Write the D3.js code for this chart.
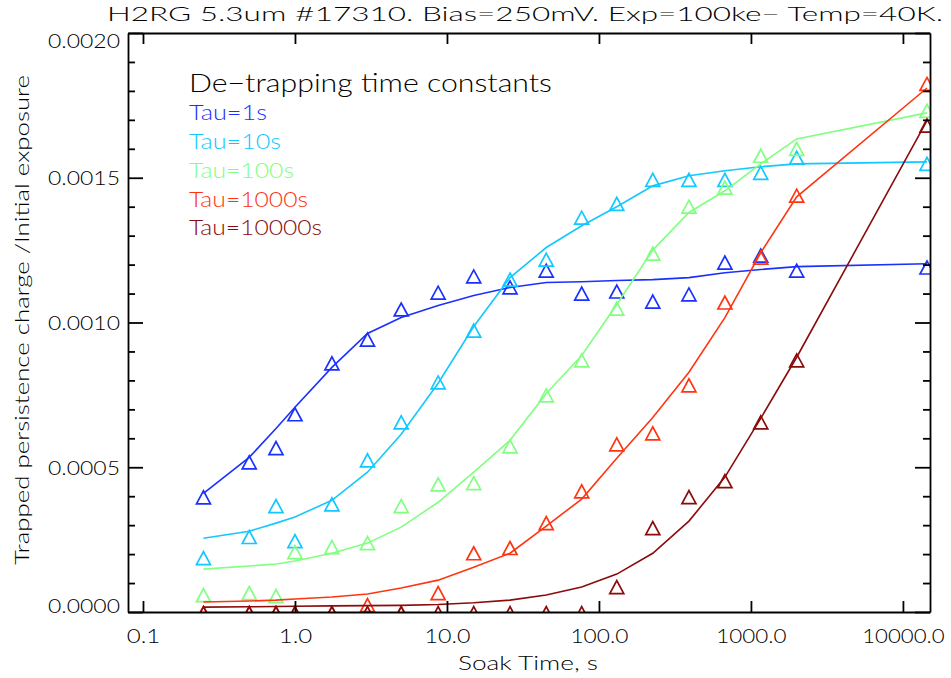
<!DOCTYPE html>
<html>
<head>
<meta charset="utf-8">
<script src="https://cdn.jsdelivr.net/npm/d3@7"></script>
<style>
  html, body { margin: 0; padding: 0; background: #fff; }
  svg { display: block; }
  text { font-family: "Lato", "DejaVu Sans", sans-serif; font-weight: 300; font-variant-numeric: lining-nums; font-feature-settings: "lnum" 1; }
</style>
</head>
<body>
<svg id="chart" width="951" height="678"></svg>
<script>
// ---------------- data ----------------
const soakTimes = [0.25, 0.5, 0.75, 1.0, 1.75, 3, 5, 8.75, 15, 26, 45, 77, 131, 226, 391, 674, 1160, 2000, 14400];

const seriesNames = ["Tau=1s", "Tau=10s", "Tau=100s", "Tau=1000s", "Tau=10000s"];
const seriesColors = ["#1a30ff", "#12c8ff", "#80ff80", "#ff3510", "#8b0a0a"];

const measTau1 = [0.000396, 0.000517, 0.000566, 0.000683, 0.000859, 0.000941, 0.001045, 0.001103, 0.001159, 0.001121, 0.001179, 0.001100, 0.001107, 0.001072, 0.001097, 0.001207, 0.001231, 0.001179, 0.001190];
const fitTau1  = [0.000410, 0.000534, 0.000634, 0.000707, 0.000845, 0.000962, 0.001017, 0.001059, 0.001093, 0.001121, 0.001138, 0.001141, 0.001145, 0.001148, 0.001155, 0.001172, 0.001183, 0.001193, 0.001203];

const measTau10 = [0.000186, 0.000259, 0.000366, 0.000245, 0.000372, 0.000524, 0.000655, 0.000793, 0.000972, 0.001148, 0.001217, 0.001362, 0.001410, 0.001493, 0.001493, 0.001493, 0.001517, 0.001569, 0.001548];
const fitTau10  = [0.000255, 0.000279, 0.000307, 0.000328, 0.000386, 0.000483, 0.000614, 0.000790, 0.000986, 0.001155, 0.001259, 0.001334, 0.001400, 0.001472, 0.001507, 0.001524, 0.001538, 0.001548, 0.001555];

const measTau100 = [0.0000586, 0.0000655, 0.000055, 0.000207, 0.000224, 0.000238, 0.000366, 0.000441, 0.000445, 0.000572, 0.000748, 0.000869, 0.001048, 0.001238, 0.001400, 0.001466, 0.001576, 0.001600, 0.001731];
const fitTau100  = [0.000148, 0.000159, 0.000166, 0.000176, 0.000203, 0.000238, 0.000293, 0.000379, 0.000483, 0.000593, 0.000755, 0.000886, 0.001062, 0.001250, 0.001380, 0.001455, 0.001548, 0.001634, 0.001724];

const measTau1000 = [-0.000004, -0.000004, -0.000004, -0.000004, -0.000004, 0.000024, -0.000004, 0.0000655, 0.000203, 0.000221, 0.000307, 0.000417, 0.000579, 0.000617, 0.000783, 0.001069, 0.001224, 0.001438, 0.001824];
const fitTau1000  = [0.0000345, 0.000038, 0.000041, 0.0000448, 0.000052, 0.000062, 0.000083, 0.000110, 0.000155, 0.000203, 0.000297, 0.000390, 0.000531, 0.000672, 0.000828, 0.001017, 0.001241, 0.001434, 0.001810];

const measTau10000 = [-0.000004, -0.000004, -0.000004, -0.000004, -0.000004, -0.000004, -0.000004, -0.000004, -0.000004, -0.000004, -0.000004, -0.000004, 0.0000862, 0.000290, 0.000397, 0.000452, 0.000655, 0.000869, 0.001680];
const fitTau10000  = [0.000017, 0.000018, 0.000019, 0.000020, 0.000021, 0.000022, 0.000023, 0.000026, 0.000032, 0.000041, 0.0000586, 0.0000862, 0.000131, 0.000203, 0.000314, 0.000466, 0.000669, 0.000880, 0.001697];

const xTickValues = [0.1, 1, 10, 100, 1000, 10000];
const yTickValues = [0, 0.0005, 0.0010, 0.0015, 0.0020];
const yMinorValues = d3.range(0, 21).map(i => i * 0.0001).filter(v => !yTickValues.some(t => Math.abs(t - v) < 1e-9));

const titleText = "H2RG 5.3um #17310. Bias=250mV. Exp=100ke\u2212 Temp=40K.";
const xTitle = "Soak Time, s";
const yTitle = "Trapped persistence charge /Initial exposure";
const legendTitle = "De\u2212trapping time constants";

const measured = [measTau1, measTau10, measTau100, measTau1000, measTau10000];
const fitted = [fitTau1, fitTau10, fitTau100, fitTau1000, fitTau10000];

// ---------------- layout ----------------
const L = 128, R = 930, T = 33, B = 612;
const svg = d3.select("#chart");

const x = d3.scaleLog().domain([0.0797, 15070]).range([L, R]);
const y = d3.scaleLinear().domain([0, 0.002]).range([B, T]);

svg.append("defs").append("clipPath").attr("id", "plotclip")
  .append("rect").attr("x", L).attr("y", T).attr("width", R - L).attr("height", B - T);

const plot = svg.append("g").attr("clip-path", "url(#plotclip)");

const line = d3.line().x((d, i) => x(soakTimes[i])).y(d => y(d));
const tri = "M-7,6.5L7,6.5L0,-6.5Z";

measured.forEach((vals, s) => {
  plot.append("path")
    .attr("d", line(fitted[s]))
    .attr("fill", "none")
    .attr("stroke", seriesColors[s])
    .attr("stroke-width", 1.6);
  plot.selectAll(null).data(vals).enter().append("path")
    .attr("d", tri)
    .attr("transform", (d, i) => `translate(${x(soakTimes[i])},${y(d)})`)
    .attr("fill", "none")
    .attr("stroke", seriesColors[s])
    .attr("stroke-width", 1.7);
});

// ---------------- axes ----------------
function styleAxis(g) {
  g.selectAll("path.domain").attr("stroke", "#000").attr("stroke-width", 1.8);
  g.selectAll(".tick line").attr("stroke", "#000").attr("stroke-width", 1.8);
  g.selectAll("text").attr("fill", "#000").style("font-family", '"Lato", "DejaVu Sans", sans-serif').style("font-weight", 300);
}

const xBottom = svg.append("g").attr("transform", `translate(0,${B})`)
  .call(d3.axisBottom(x).tickValues(xTickValues).tickSize(-11).tickSizeOuter(0).tickPadding(18).tickFormat(d3.format(".1f")));
styleAxis(xBottom);
xBottom.selectAll("text").attr("font-size", 19)
  .attr("textLength", d => d3.format(".1f")(d).length * 12.2 - 3).attr("lengthAdjust", "spacingAndGlyphs");

const xTop = svg.append("g").attr("transform", `translate(0,${T})`)
  .call(d3.axisTop(x).tickValues(xTickValues).tickSize(-11).tickSizeOuter(0).tickFormat(""));
styleAxis(xTop);

const yLeft = svg.append("g").attr("transform", `translate(${L},0)`)
  .call(d3.axisLeft(y).tickValues(yTickValues).tickSize(-15).tickSizeOuter(0).tickPadding(8).tickFormat(d3.format(".4f")));
styleAxis(yLeft);
yLeft.selectAll("text").attr("font-size", 19).attr("textLength", 72).attr("lengthAdjust", "spacingAndGlyphs")
  .attr("dy", d => d === 0 ? "0em" : (Math.abs(d - 0.002) < 1e-9 ? "0.78em" : "0.36em"));

svg.append("g").attr("transform", `translate(${L},0)`)
  .call(d3.axisLeft(y).tickValues(yMinorValues).tickSize(-7).tickSizeOuter(0).tickFormat(""))
  .call(styleAxis).select("path.domain").remove();

const yRight = svg.append("g").attr("transform", `translate(${R},0)`)
  .call(d3.axisRight(y).tickValues(yTickValues).tickSize(-15).tickSizeOuter(0).tickFormat(""));
styleAxis(yRight);
svg.append("g").attr("transform", `translate(${R},0)`)
  .call(d3.axisRight(y).tickValues(yMinorValues).tickSize(-7).tickSizeOuter(0).tickFormat(""))
  .call(styleAxis).select("path.domain").remove();

// ---------------- texts ----------------
svg.append("text").attr("x", 525).attr("y", 21).attr("text-anchor", "middle")
  .attr("font-size", 20.5).attr("fill", "#000")
  .attr("textLength", 836).attr("lengthAdjust", "spacingAndGlyphs").text(titleText);

svg.append("text").attr("x", 528).attr("y", 670).attr("text-anchor", "middle")
  .attr("font-size", 20).attr("fill", "#000")
  .attr("textLength", 140).attr("lengthAdjust", "spacingAndGlyphs").text(xTitle);

svg.append("text").attr("transform", "translate(29,320) rotate(-90)").attr("text-anchor", "middle")
  .attr("font-size", 20).attr("fill", "#000")
  .attr("textLength", 490).attr("lengthAdjust", "spacingAndGlyphs").text(yTitle);

svg.append("text").attr("x", 189).attr("y", 92)
  .attr("font-size", 26).attr("fill", "#000")
  .attr("textLength", 363).attr("lengthAdjust", "spacingAndGlyphs").text(legendTitle);

const legendBaselines = [120, 148.5, 177.5, 206.5, 235];
const legendWidths = [78, 92, 105, 119, 133];
seriesNames.forEach((name, s) => {
  svg.append("text").attr("x", 189).attr("y", legendBaselines[s])
    .attr("font-size", 22).attr("fill", seriesColors[s])
    .attr("textLength", legendWidths[s]).attr("lengthAdjust", "spacingAndGlyphs").text(name);
});
</script>
</body>
</html>
